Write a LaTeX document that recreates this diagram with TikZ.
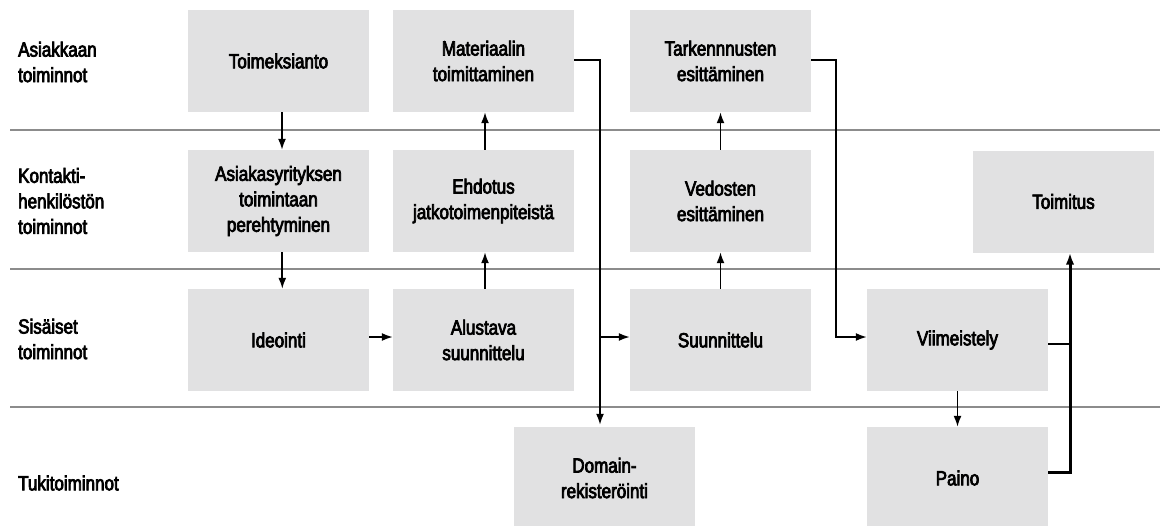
\documentclass[tikz,border=0pt]{standalone}
\usepackage{fontspec}
\newfontfamily\lbl[FakeBold=3.5,FakeStretch=0.83]{Liberation Sans}
\usetikzlibrary{arrows.meta}
\definecolor{boxgray}{RGB}{225,225,226}
\definecolor{rulegray}{RGB}{140,140,140}

\begin{document}
\begin{tikzpicture}[x=1pt,y=-1pt,
  txt/.style={font=\lbl\fontsize{20.5pt}{25.5pt}\selectfont},
  stepbox/.style={txt, fill=boxgray, minimum width=181pt, minimum height=102pt,
    inner sep=0pt, align=center},
  lane/.style={txt, anchor=west, align=left, inner sep=0pt},
  rule/.style={draw=rulegray, line width=1.4pt},
  flow/.style={draw=black, line width=1.7pt, -{Latex[length=11pt,width=8pt]}},
  flowthick/.style={draw=black, line width=3pt, -{Latex[length=12pt,width=8.5pt]}},
  joinline/.style={draw=black, line width=2pt}]

\useasboundingbox (0,0) rectangle (1165,525);

% swim-lane separators
\draw[rule] (10,130) -- (1160,130);
\draw[rule] (10,269) -- (1160,269);
\draw[rule] (10,407) -- (1160,407);

% lane titles
\node[lane] (l1) at (18,62) {Asiakkaan\\toiminnot};
\node[lane] (l2) at (18,201) {Kontakti-\\henkilöstön\\toiminnot};
\node[lane] (l3) at (18,339) {Sisäiset\\toiminnot};
\node[lane] (l4) at (18,483) {Tukitoiminnot};

% process steps
\node[stepbox] (toim) at (278.5,61) {Toimeksianto};
\node[stepbox] (mat)  at (483.5,61) {Materiaalin\\toimittaminen};
\node[stepbox] (tark) at (720.5,61) {Tarkennnusten\\esittäminen};

\node[stepbox] (asi)  at (278.5,201) {Asiakasyrityksen\\toimintaan\\perehtyminen};
\node[stepbox] (ehd)  at (483.5,201) {Ehdotus\\jatkotoimenpiteistä};
\node[stepbox] (ved)  at (720.5,201) {Vedosten\\esittäminen};
\node[stepbox] (tmt)  at (1063.5,201.5) {Toimitus};

\node[stepbox] (ide)  at (278.5,340) {Ideointi};
\node[stepbox] (alu)  at (483.5,340) {Alustava\\suunnittelu};
\node[stepbox] (suu)  at (720.5,340) {Suunnittelu};
\node[stepbox] (vii)  at (957.5,340) {Viimeistely};

\node[stepbox] (dom)  at (604.5,478) {Domain-\\rekisteröinti};
\node[stepbox] (pai)  at (957.5,478) {Paino};

% junction points
\coordinate (j1) at (600,60);
\coordinate (b1) at (600,337);
\coordinate (j2) at (836,60);
\coordinate (j3) at (1070,344);

% connectors
\draw[flow] ([xshift=3.5pt]toim.south) -- ([xshift=3.5pt]asi.north);
\draw[flow] ([xshift=3.8pt]asi.south) -- ([xshift=3.8pt]ide.north);
\draw[flow] ([yshift=3pt]ide.east) -- ([yshift=3pt]alu.west);
\draw[flow] ([xshift=1.5pt]alu.north) -- ([xshift=1.5pt]ehd.south);
\draw[flow] ([xshift=1.5pt]ehd.north) -- ([xshift=1.5pt]mat.south);
\draw[flow, shorten >=2pt] ([yshift=1pt]mat.east) -- (j1) -- (j1 |- dom.north);
\draw[flow] (b1) -- (suu.west |- b1);
\draw[flow] (suu.north) -- (ved.south);
\draw[flow] (ved.north) -- (tark.south);
\draw[flow] ([yshift=1pt]tark.east) -- (j2) |- ([yshift=3pt]vii.west);
\draw[flow] (vii.south) -- (pai.north);
\draw[joinline] ([yshift=-4pt]vii.east) -- (j3);
\draw[flowthick] ([yshift=6pt]pai.east) -| ([xshift=6.5pt]tmt.south);
\end{tikzpicture}
\end{document}
